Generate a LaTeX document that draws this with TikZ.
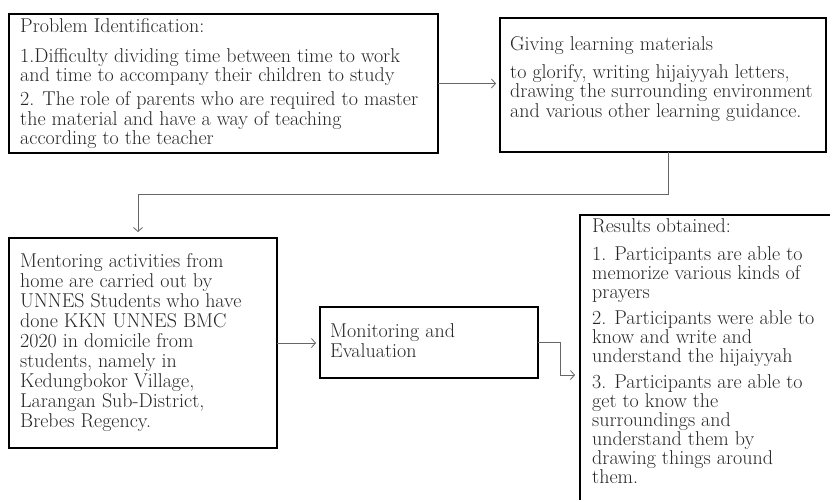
\documentclass[tikz,border=0pt]{standalone}
\usetikzlibrary{arrows.meta,calc}
\begin{document}
\begin{tikzpicture}[x=1pt,y=-1pt,
 box/.style={draw=black,line width=1.7pt,anchor=north west,inner sep=0pt,outer sep=0pt},
 txt/.style={anchor=north west,inner sep=0pt,align=left,text=black!85,font=\fontsize{20}{19.5}\selectfont},
 conn/.style={draw=black!60,line width=0.8pt,-{Straight Barb[length=4pt,width=9pt]}}]
\useasboundingbox (0,0) rectangle (830,499);
\clip (0,0) rectangle (830,499);
\fill[white] (0,0) rectangle (830,499);
% boxes
\node[box,minimum width=429pt,minimum height=139pt] (b1) at (9,14) {};
\node[box,minimum width=326pt,minimum height=134pt] (b2) at (500,18) {};
\node[box,minimum width=268pt,minimum height=210pt] (b3) at (9,238) {};
\node[box,minimum width=218pt,minimum height=71pt] (b4) at (320,307) {};
\node[box,minimum width=300pt,minimum height=320pt] (b5) at (580,215) {};
% texts
\node[txt] (t1) at (20,18) {Problem Identification:\\[10.5pt]
1.Difficulty dividing time between time to work\\
and time to accompany their children to study\\[4.5pt]
2. The role of parents who are required to master\\
the material and have a way of teaching\\
according to the teacher};
\node[txt] (t2) at (510,36) {Giving learning materials\\[8.5pt]
to glorify, writing hijaiyyah letters,\\
drawing the surrounding environment\\
and various other learning guidance.};
\node[txt,font=\fontsize{20}{20}\selectfont] (t3) at (20,253) {Mentoring activities from\\
home are carried out by\\
UNNES Students who have\\
done KKN UNNES BMC\\
2020 in domicile from\\
students, namely in\\
Kedungbokor Village,\\
Larangan Sub-District,\\
Brebes Regency.};
\node[txt,font=\fontsize{20}{20}\selectfont] (t4) at (330,323) {Monitoring and\\ Evaluation};
\node[txt,font=\fontsize{20}{19}\selectfont] (t5) at (592,218) {Results obtained:\\[9pt]
1. Participants are able to\\
memorize various kinds of\\
prayers\\[7pt]
2. Participants were able to\\
know and write and\\
understand the hijaiyyah\\[7pt]
3. Participants are able to\\
get to know the\\
surroundings and\\
understand them by\\
drawing things around\\
them.};
% connectors
\coordinate (c1) at (138,194);
\draw[conn,shorten >=4pt] (b1.east) -- (b1.east -| b2.west);
\draw[conn,shorten >=6pt] ([xshift=5pt]b2.south) |- (c1) -- (c1 |- b3.north);
\draw[conn,shorten >=4pt] (b3.east) -- (b3.east -| b4.west);
\draw[conn,shorten >=5pt] (b4.east) -- ++(22,0) |- (b5.west);
\end{tikzpicture}
\end{document}
